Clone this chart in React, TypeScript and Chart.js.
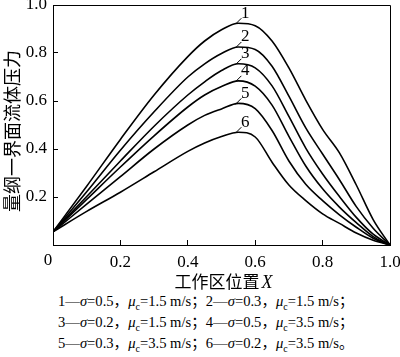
import React, { useEffect, useRef } from 'react';
import { Chart, registerables } from 'chart.js';

Chart.register(...registerables);

// ---- data ----
const X_POSITIONS = [0, 0.1, 0.2, 0.3, 0.4, 0.45, 0.5, 0.55, 0.6, 0.65, 0.7, 0.75, 0.8, 0.85, 0.9, 0.95, 1.0];
const CURVE_1 = [0.055, 0.245, 0.44, 0.625, 0.785, 0.85, 0.897, 0.924, 0.914, 0.85, 0.738, 0.604, 0.482, 0.384, 0.25, 0.106, 0];
const CURVE_2 = [0.055, 0.222, 0.395, 0.555, 0.7, 0.755, 0.798, 0.825, 0.815, 0.745, 0.62, 0.488, 0.379, 0.272, 0.16, 0.07, 0];
const CURVE_3 = [0.055, 0.202, 0.35, 0.495, 0.625, 0.68, 0.727, 0.755, 0.738, 0.663, 0.536, 0.404, 0.296, 0.202, 0.115, 0.045, 0];
const CURVE_4 = [0.055, 0.19, 0.325, 0.455, 0.575, 0.625, 0.66, 0.684, 0.662, 0.583, 0.453, 0.329, 0.234, 0.158, 0.093, 0.035, 0];
const CURVE_5 = [0.055, 0.17, 0.285, 0.4, 0.5, 0.54, 0.567, 0.59, 0.568, 0.477, 0.35, 0.253, 0.185, 0.126, 0.074, 0.028, 0];
const CURVE_6 = [0.055, 0.14, 0.22, 0.305, 0.39, 0.425, 0.452, 0.47, 0.45, 0.345, 0.25, 0.185, 0.13, 0.09, 0.05, 0.02, 0];
const SERIES = [CURVE_1, CURVE_2, CURVE_3, CURVE_4, CURVE_5, CURVE_6];
const CURVE_LABELS = ['1', '2', '3', '4', '5', '6'];
const LABEL_AT_X = 0.55;

const LEGEND_SIGMA = ['0.5', '0.3', '0.2', '0.5', '0.3', '0.2'];
const LEGEND_MU = ['1.5', '1.5', '1.5', '3.5', '3.5', '3.5'];

const Y_TITLE = '量纲一界面流体压力';
const X_TITLE_CN = '工作区位置';
const X_TITLE_VAR = 'X';
const ORIGIN_LABEL = '0';

const SERIF = '"Liberation Serif", "Times New Roman", serif';
const CJK = '"Noto Sans CJK SC", sans-serif';

const decorPlugin = {
  id: 'decor',
  afterDraw(chart: any) {
    const { ctx, chartArea: a } = chart;
    ctx.save();
    // top and right frame
    ctx.strokeStyle = '#000';
    ctx.lineWidth = 1;
    ctx.beginPath();
    ctx.moveTo(a.left, Math.round(a.top) + 0.5);
    ctx.lineTo(Math.round(a.right) + 0.5, Math.round(a.top) + 0.5);
    ctx.lineTo(Math.round(a.right) + 0.5, a.bottom);
    ctx.stroke();

    // curve number labels with leader lines
    const idx = X_POSITIONS.indexOf(LABEL_AT_X);
    ctx.font = `17px ${SERIF}`;
    ctx.fillStyle = '#000';
    ctx.textAlign = 'center';
    ctx.textBaseline = 'middle';
    chart.data.datasets.forEach((ds: any, i: number) => {
      const pt = chart.getDatasetMeta(i).data[idx];
      if (!pt) return;
      ctx.beginPath();
      ctx.moveTo(pt.x - 3, pt.y + 1);
      ctx.lineTo(pt.x + 3, pt.y - 5);
      ctx.stroke();
      ctx.fillText(ds.label, pt.x + 7, pt.y - 10);
    });

    // origin label
    ctx.textBaseline = 'top';
    ctx.fillText(ORIGIN_LABEL, a.left - 5, a.bottom + 7);

    // y title
    ctx.save();
    ctx.font = `18px ${CJK}`;
    ctx.translate(a.left - 41, (a.top + a.bottom) / 2 + 6);
    ctx.rotate(-Math.PI / 2);
    ctx.textAlign = 'center';
    ctx.textBaseline = 'middle';
    ctx.fillText(Y_TITLE, 0, 0);
    ctx.restore();

    // x title
    ctx.textBaseline = 'middle';
    ctx.textAlign = 'left';
    ctx.font = `17px ${CJK}`;
    const w1 = ctx.measureText(X_TITLE_CN).width;
    ctx.font = `italic 18px ${SERIF}`;
    const w2 = ctx.measureText(X_TITLE_VAR).width;
    const gap = 2;
    const cx = (a.left + a.right) / 2 + 2;
    const sx = cx - (w1 + gap + w2) / 2;
    const ty = a.bottom + 37;
    ctx.font = `17px ${CJK}`;
    ctx.fillText(X_TITLE_CN, sx, ty);
    ctx.font = `italic 18px ${SERIF}`;
    ctx.fillText(X_TITLE_VAR, sx + w1 + gap, ty + 1);
    ctx.restore();
  },
};

export default function App() {
  const ref = useRef<HTMLCanvasElement>(null);

  useEffect(() => {
    const canvas = ref.current;
    if (!canvas) return;
    const tickFont = { family: SERIF, size: 17 };
    const chart = new Chart(canvas, {
      type: 'line',
      data: {
        datasets: SERIES.map((vals, i) => ({
          label: CURVE_LABELS[i],
          data: X_POSITIONS.map((x, j) => ({ x, y: vals[j] })),
          borderColor: '#000',
          borderWidth: 1.6,
          pointRadius: 0,
          fill: false,
          cubicInterpolationMode: 'monotone' as const,
        })),
      },
      options: {
        responsive: false,
        animation: false,
        devicePixelRatio: 1,
        layout: { padding: { left: 0, right: 10, top: 5, bottom: 0 } },
        plugins: { legend: { display: false }, tooltip: { enabled: false } },
        scales: {
          x: {
            type: 'linear',
            min: 0,
            max: 1,
            border: { display: true, color: '#000', width: 1 },
            grid: { drawOnChartArea: false, drawTicks: true, tickLength: -5, color: '#000' },
            ticks: {
              stepSize: 0.2,
              padding: 12,
              color: '#000',
              font: tickFont,
              maxRotation: 0,
              autoSkip: false,
              callback: (v: any) => (Math.abs(Number(v)) < 1e-9 ? '' : Number(v).toFixed(1)),
            },
            afterFit: (s: any) => {
              s.height = 45;
              s.paddingLeft = 0;
              s.paddingRight = 0;
            },
          },
          y: {
            type: 'linear',
            min: 0,
            max: 1,
            border: { display: true, color: '#000', width: 1 },
            grid: { drawOnChartArea: false, drawTicks: true, tickLength: -5, color: '#000' },
            ticks: {
              stepSize: 0.2,
              padding: 11,
              color: '#000',
              font: tickFont,
              autoSkip: false,
              callback: (v: any) => (Math.abs(Number(v)) < 1e-9 ? '' : Number(v).toFixed(1)),
            },
            afterFit: (s: any) => {
              s.width = 53;
              s.paddingTop = 0;
              s.paddingBottom = 0;
            },
          },
        },
      },
      plugins: [decorPlugin],
    });
    return () => chart.destroy();
  }, []);

  const rows = [0, 2, 4];
  return (
    <div style={{ position: 'absolute', left: 0, top: 0, width: 400, height: 357, background: '#fff' }}>
      <canvas ref={ref} width={400} height={290} style={{ display: 'block' }} />
      <div
        style={{
          position: 'absolute',
          left: 58,
          top: 291,
          fontFamily: `"Liberation Serif", "Noto Sans CJK SC", serif`,
          fontSize: 14.6,
          lineHeight: '21px',
          color: '#000',
          whiteSpace: 'nowrap',
        }}
      >
        {rows.map((start) => (
          <div key={start}>
            {[start, start + 1].map((k) => (
              <span key={k}>
                {CURVE_LABELS[k]}—<i>σ</i>={LEGEND_SIGMA[k]}，<i>μ</i>
                <sub style={{ fontSize: 10, lineHeight: 0 }}>c</sub>={LEGEND_MU[k]} m/s{k === 5 ? '。' : '；'}
              </span>
            ))}
          </div>
        ))}
      </div>
    </div>
  );
}
